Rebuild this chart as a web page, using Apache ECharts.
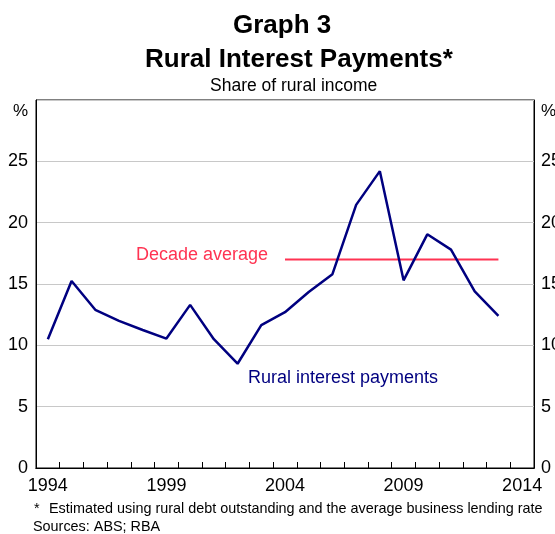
<!DOCTYPE html>
<html>
<head>
<meta charset="utf-8">
<script src="https://cdn.jsdelivr.net/npm/echarts@6/dist/echarts.min.js"></script>
<style>
html,body{margin:0;padding:0;background:#fff;}
#chart{width:555px;height:534px;}
</style>
</head>
<body>
<div id="chart"></div>
<script>
const years = ['1994','1995','1996','1997','1998','1999','2000','2001','2002','2003','2004','2005','2006','2007','2008','2009','2010','2011','2012','2013','2014'];
const ruralInterest = [10.5,15.25,12.9,12.0,11.25,10.55,13.3,10.5,8.5,11.65,12.7,14.35,15.8,21.45,24.2,15.3,19.05,17.8,14.4,12.4];
const decadeAverage = [null,null,null,null,null,null,null,null,null,null,17,17,17,17,17,17,17,17,17,17];
const yTicks = [0,5,10,15,20,25];

const FONT = '"Liberation Sans", Arial, sans-serif';
const chart = echarts.init(document.getElementById('chart'), null, {renderer:'canvas'});
const yLabel = {color:'#000', fontSize:18, fontFamily:FONT,
  formatter: v => yTicks.indexOf(v) >= 0 ? String(v) : ''};
const yAxisCommon = {
  type:'value', min:0, max:30, interval:5,
  axisLine:{show:true, lineStyle:{color:'#000', width:1}},
  axisTick:{show:false},
  splitLine:{show:true, lineStyle:{color:'#c8c8c8', width:1}}
};
chart.setOption({
  animation:false,
  backgroundColor:'#fff',
  grid:{left:36, right:21, top:100, bottom:66, containLabel:false, outerBoundsMode:'none',
        show:true, borderColor:'#000', borderWidth:1, backgroundColor:'transparent'},
  xAxis:[{
    type:'category', data:years, boundaryGap:true,
    axisLine:{show:true, lineStyle:{color:'#000', width:1}},
    axisTick:{show:true, inside:true, length:6, interval:0, alignWithLabel:false, lineStyle:{color:'#000'}},
    axisLabel:{interval:4, color:'#000', fontSize:18, fontFamily:FONT, margin:9, hideOverlap:false},
    splitLine:{show:false}
  },{
    type:'category', data:years, boundaryGap:true, position:'top',
    axisLine:{show:true, lineStyle:{color:'#000', width:1}},
    axisTick:{show:false}, axisLabel:{show:false}, splitLine:{show:false}
  }],
  yAxis:[
    Object.assign({}, yAxisCommon, {position:'left', axisLabel:Object.assign({}, yLabel, {margin:8})}),
    Object.assign({}, yAxisCommon, {position:'right', splitLine:{show:false}, axisLabel:Object.assign({}, yLabel, {margin:7})})
  ],
  series:[
    {type:'line', data:ruralInterest, symbol:'none', lineStyle:{color:'#000080', width:2.5}, z:3},
    {type:'line', data:decadeAverage, symbol:'none', lineStyle:{color:'#ff3352', width:2}, z:2}
  ],
  graphic:[
    {type:'text', x:233, y:13, style:{text:'Graph 3', font:'bold 26px '+FONT, fill:'#000'}},
    {type:'text', x:145, y:47, style:{text:'Rural Interest Payments*', font:'bold 26px '+FONT, fill:'#000'}},
    {type:'text', x:210, y:77, style:{text:'Share of rural income', font:'17.5px '+FONT, fill:'#000'}},
    {type:'text', x:13, y:103, style:{text:'%', font:'17px '+FONT, fill:'#000'}},
    {type:'text', x:541, y:103, style:{text:'%', font:'17px '+FONT, fill:'#000'}},
    {type:'text', x:136, y:246, style:{text:'Decade average', font:'18px '+FONT, fill:'#ff3352'}},
    {type:'text', x:248, y:369, style:{text:'Rural interest payments', font:'18px '+FONT, fill:'#000080'}},
    {type:'text', x:34, y:502.5, style:{text:'*', font:'14.4px '+FONT, fill:'#000'}},
    {type:'text', x:49, y:502.5, style:{text:'Estimated using rural debt outstanding and the average business lending rate', font:'14.4px '+FONT, fill:'#000'}},
    {type:'text', x:33, y:520, style:{text:'Sources: ABS; RBA', font:'14.4px '+FONT, fill:'#000'}}
  ]
});
</script>
</body>
</html>
